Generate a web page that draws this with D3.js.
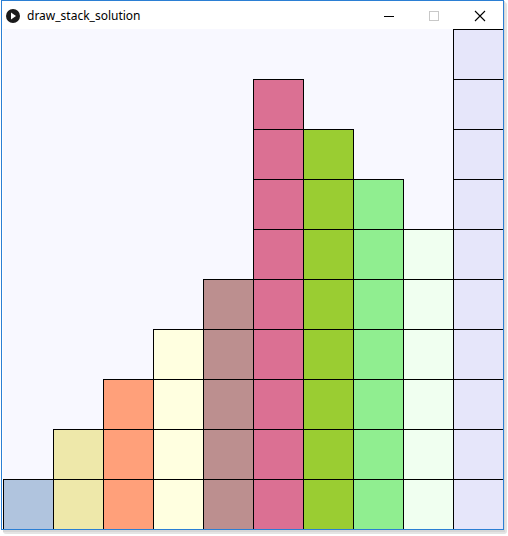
<!DOCTYPE html>
<html><head><meta charset="utf-8">
<script src="https://cdn.jsdelivr.net/npm/d3@7"></script>
<style>html,body{margin:0;padding:0;background:#ffffff;overflow:hidden}</style>
</head><body>
<script>
const columns = ["0","1","2","3","4","5","6","7","8","9"];
const heights = [1,2,3,4,5,9,8,7,6,10];
const colors = ["#B0C4DE","#EEE8AA","#FFA07A","#FFFFE0","#BC8F8F","#DB7093","#9ACD32","#90EE90","#F0FFF0","#E6E6FA"];
const title = "draw_stack_solution";
const maxRows = 10;

const W = 508, H = 536;
const svg = d3.select("body").append("svg").attr("width", W).attr("height", H);

// page + soft shadow
svg.append("rect").attr("x",0).attr("y",0).attr("width",W).attr("height",H).attr("fill","#ffffff");
svg.append("rect").attr("x",3).attr("y",2).attr("width",504).attr("height",532).attr("rx",3).attr("fill","#e4e4e4");
svg.append("rect").attr("x",3).attr("y",1).attr("width",502).attr("height",531).attr("fill","#d6d6d6");
// window
svg.append("rect").attr("x",1.5).attr("y",0.5).attr("width",502).attr("height",529).attr("fill","#ffffff").attr("stroke","#2b7fd4").attr("stroke-width",1);

const cx = 3, cy = 29, cw = 500, ch = 500;
const g = svg.append("g").attr("transform", `translate(${cx},${cy})`);
g.append("rect").attr("width",cw).attr("height",ch).attr("fill","#F8F8FF");

const x = d3.scaleBand().domain(columns).range([0,cw]);
const y = d3.scaleLinear().domain([0,maxRows]).range([ch,0]);

const cells = [];
columns.forEach((c,i)=>{ for(let k=0;k<heights[i];k++) cells.push({c, i, k}); });

g.selectAll("rect.cell").data(cells).join("rect").attr("class","cell")
  .attr("x", d=>x(d.c)+0.5)
  .attr("y", d=>y(d.k+1)+0.5)
  .attr("width", x.bandwidth())
  .attr("height", y(0)-y(1))
  .attr("fill", d=>colors[d.i])
  .attr("stroke","#000").attr("stroke-width",1);

// window border over cells
svg.append("line").attr("x1",503.5).attr("x2",503.5).attr("y1",0).attr("y2",530).attr("stroke","#2b7fd4");
svg.append("line").attr("x1",1.5).attr("x2",504).attr("y1",529.5).attr("y2",529.5).attr("stroke","#2b7fd4");

// title bar
svg.append("circle").attr("cx",13).attr("cy",16).attr("r",7).attr("fill","#1a1a1a");
svg.append("path").attr("d","M11,12.5 L16,16 L11,19.5 Z").attr("fill","#fff");
svg.append("text").attr("x",27).attr("y",20).attr("font-family","'Noto Sans', sans-serif").attr("font-size",12).attr("fill","#000").text(title);
// minimize
svg.append("line").attr("x1",384).attr("x2",394).attr("y1",16.5).attr("y2",16.5).attr("stroke","#000");
// maximize
svg.append("rect").attr("x",429.5).attr("y",11.5).attr("width",9).attr("height",9).attr("fill","none").attr("stroke","#c8c8c8");
// close
svg.append("path").attr("d","M475,11 L485,21 M485,11 L475,21").attr("stroke","#000").attr("stroke-width",1.1);
</script>
</body></html>
